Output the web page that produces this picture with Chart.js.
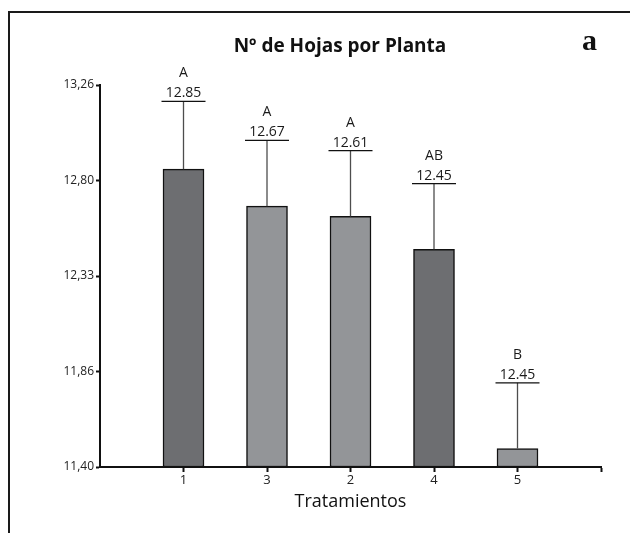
<!DOCTYPE html>
<html>
<head>
<meta charset="utf-8">
<script src="https://cdn.jsdelivr.net/npm/chart.js@4"></script>
<style>
  html, body { margin: 0; padding: 0; background: #fff; }
  #wrap { position: relative; width: 630px; height: 533px; overflow: hidden; }
  #frame { position: absolute; left: 8px; top: 11px; width: 700px; height: 600px;
           border-top: 2px solid #1a1a1a; border-left: 2px solid #1a1a1a; }
  canvas { position: absolute; left: 0; top: 0; }
</style>
</head>
<body>
<div id="wrap">
  <div id="frame"></div>
  <canvas id="c" width="630" height="533"></canvas>
</div>
<script>
// ---- data ----
const categories   = ['1', '3', '2', '4', '5'];
const xPositions   = [1, 2, 3, 4, 5];
const means        = [12.85, 12.67, 12.62, 12.46, 11.49];
const errorTops    = [13.18, 12.99, 12.94, 12.78, 11.81];
const letters      = ['A', 'A', 'A', 'AB', 'B'];
const valueLabels  = ['12.85', '12.67', '12.61', '12.45', '12.45'];
const yTickValues  = [11.40, 11.865, 12.33, 12.795, 13.26];
const yTickLabels  = ['11,40', '11,86', '12,33', '12,80', '13,26'];
const yMin = 11.40, yMax = 13.26;

// ---- styles ----
const DARK = '#6d6e71', LIGHT = '#939598';
const barColors = [DARK, LIGHT, LIGHT, DARK, LIGHT];
const FONT = '"Open Sans", "Noto Sans", sans-serif';

const decorations = {
  id: 'decorations',
  afterDatasetsDraw(chart) {
    const ctx = chart.ctx;
    const xs = chart.scales.x, ys = chart.scales.y;
    ctx.save();
    xPositions.forEach((xp, i) => {
      const cx = xs.getPixelForValue(xp);
      const yb = ys.getPixelForValue(means[i]);
      const ye = ys.getPixelForValue(errorTops[i]);
      // error stem
      ctx.strokeStyle = '#4d4d4d';
      ctx.lineWidth = 1.3;
      ctx.beginPath();
      ctx.moveTo(cx, yb);
      ctx.lineTo(cx, ye);
      ctx.stroke();
      // cap
      ctx.strokeStyle = '#111';
      ctx.lineWidth = 1.2;
      ctx.beginPath();
      ctx.moveTo(cx - 22, ye);
      ctx.lineTo(cx + 22, ye);
      ctx.stroke();
      // labels
      ctx.fillStyle = '#1a1a1a';
      ctx.textAlign = 'center';
      ctx.textBaseline = 'alphabetic';
      ctx.font = '14px ' + FONT;
      ctx.fillText(valueLabels[i], cx, ye - 4);
      ctx.fillText(letters[i], cx, ye - 24);
    });
    // chart title
    ctx.fillStyle = '#111';
    ctx.textAlign = 'center';
    ctx.textBaseline = 'alphabetic';
    ctx.font = 'bold 19px ' + FONT;
    ctx.fillText('Nº de Hojas por Planta', 340, 52);
    // panel letter
    ctx.font = 'bold 30px "Liberation Serif", "DejaVu Serif", serif';
    ctx.fillText('a', 589.5, 50);
    ctx.restore();
  }
};

new Chart(document.getElementById('c'), {
  type: 'bar',
  data: {
    datasets: [{
      data: xPositions.map((x, i) => ({ x: x, y: [yMin, means[i]] })),
      backgroundColor: barColors,
      borderColor: '#111',
      borderWidth: 1.5,
      borderSkipped: false,
      barThickness: 41
    }]
  },
  options: {
    responsive: false,
    animation: false,
    layout: { padding: { top: 85, right: 29, left: 0, bottom: 0 } },
    plugins: { legend: { display: false }, tooltip: { enabled: false }, title: { display: false } },
    scales: {
      x: {
        type: 'linear',
        offset: false,
        min: 0, max: 6,
        afterFit(s) { s.height = 66; },
        afterBuildTicks(s) { s.ticks = [1, 2, 3, 4, 5, 6].map(v => ({ value: v })); },
        grid: { display: true, offset: false, drawOnChartArea: false, drawTicks: true, tickLength: 5, tickWidth: 2, tickColor: '#111' },
        border: { display: true, color: '#111', width: 2 },
        ticks: {
          padding: 0,
          color: '#222',
          font: { family: FONT, size: 13 },
          maxRotation: 0,
          autoSkip: false,
          callback: (v) => categories[v - 1] !== undefined ? categories[v - 1] : ''
        },
        title: {
          display: true,
          text: 'Tratamientos',
          color: '#111',
          font: { family: FONT, size: 18 },
          padding: { top: 0, bottom: 20 }
        }
      },
      y: {
        min: yMin, max: yMax,
        afterFit(s) { s.width = 100; },
        afterBuildTicks(s) { s.ticks = yTickValues.map(v => ({ value: v })); },
        grid: { display: true, drawOnChartArea: false, drawTicks: true, tickLength: 4, tickWidth: 2, tickColor: '#111' },
        border: { display: true, color: '#111', width: 2 },
        ticks: {
          padding: 2,
          color: '#222',
          font: { family: FONT, size: 12 },
          autoSkip: false,
          callback: (v, i) => yTickLabels[i]
        }
      }
    }
  },
  plugins: [decorations]
});
</script>
</body>
</html>
